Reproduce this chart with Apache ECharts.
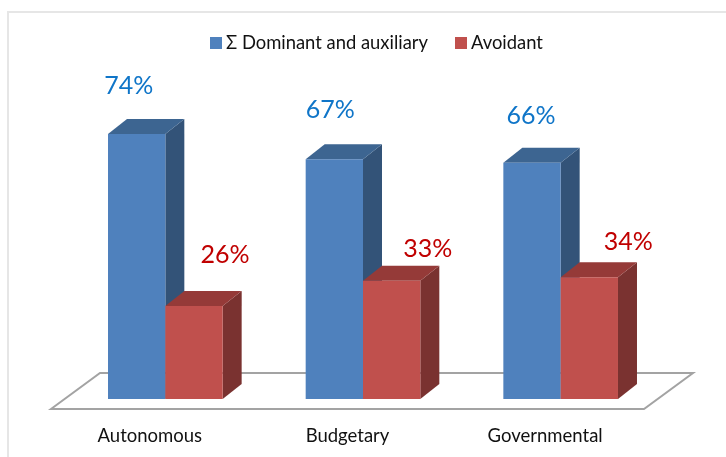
<!DOCTYPE html>
<html>
<head>
<meta charset="utf-8">
<style>
	html, body { margin: 0; padding: 0; background: #fff; }
	#main { width: 726px; height: 457px; }
</style>
<script src="https://cdn.jsdelivr.net/npm/echarts@6/dist/echarts.min.js"></script>
</head>
<body>
<div id="main"></div>
<script>
	var categories = [ 'Autonomous', 'Budgetary', 'Governmental' ];
	var dominant = [ 74, 67, 66 ];
	var avoidant = [ 26, 33, 34 ];

	var FONT = 'Lato, "Open Sans", sans-serif';
	// bars stand back from the front edge of the floor
	var floorDepth = [ 49, 36 ];
	var barInset = [ 15.5, 10 ];
	var barDepth = [ 19, 15 ];

	// the labels are hand placed in the original, so they sit off centre
	var dominantLabelShift = [ [ -8, -48 ], [ -4, -49 ], [ -1, -47 ] ];
	var avoidantLabelShift = [ [ 31, -51 ], [ 36, -32 ], [ 39, -35 ] ];

	function barRenderer(side, colors, labelColor, labelShift) {
		return function(params, api) {
			var top = api.coord([ api.value(0), api.value(1) ]);
			var base = api.coord([ api.value(0), 0 ]);
			var w = api.size([ 1, 0 ])[0] * 0.29;
			var x = top[0] + barInset[0] + (side < 0 ? -w : 0);
			var y0 = top[1] - barInset[1];
			var y1 = base[1] - barInset[1];
			var dx = barDepth[0], dy = barDepth[1];
			var shift = labelShift[params.dataIndex];
			return {
				type : 'group',
				children : [ {
					type : 'polygon',
					shape : { points : [ [ x + w, y0 ], [ x + w + dx, y0 - dy ], [ x + w + dx, y1 - dy ], [ x + w, y1 ] ] },
					style : { fill : colors.side }
				}, {
					type : 'polygon',
					shape : { points : [ [ x, y0 ], [ x + dx, y0 - dy ], [ x + w + dx, y0 - dy ], [ x + w, y0 ] ] },
					style : { fill : colors.top }
				}, {
					type : 'rect',
					shape : { x : x, y : y0, width : w, height : y1 - y0 },
					style : { fill : colors.front }
				}, {
					type : 'text',
					x : x + w / 2 + shift[0],
					y : y0 + shift[1],
					style : {
						text : api.value(1) + '%',
						fill : labelColor,
						font : '25px ' + FONT,
						textAlign : 'center',
						textVerticalAlign : 'middle'
					}
				} ]
			};
		};
	}

	function floorRenderer(params, api) {
		var g = params.coordSys;
		var fy = g.y + g.height;
		var right = g.x + g.width;
		return {
			type : 'polygon',
			shape : { points : [ [ g.x, fy ], [ g.x + floorDepth[0], fy - floorDepth[1] ], [ right + floorDepth[0], fy - floorDepth[1] ], [ right, fy ] ] },
			style : { fill : '#fff', stroke : '#a3a3a3', lineWidth : 2 }
		};
	}

	var myChart = echarts.init(document.getElementById('main'));
	var option = {
		animation : false,
		backgroundColor : '#fff',
		graphic : [ {
			type : 'polyline',
			shape : { points : [ [ 726, 12 ], [ 8, 12 ], [ 8, 457 ] ] },
			style : { fill : null, stroke : '#e6e6e6', lineWidth : 2 }
		} ],
		legend : {
			data : [ 'Σ Dominant and auxiliary', 'Avoidant' ],
			left : 205,
			top : 29,
			icon : 'rect',
			itemWidth : 12,
			itemHeight : 12,
			itemGap : 27,
			textStyle : {
				fontFamily : FONT,
				fontSize : 18.4,
				color : '#111',
				padding : [ 0, 0, 0, -1 ]
			}
		},
		grid : {
			left : 51,
			right : 82,
			top : 51,
			bottom : 48
		},
		xAxis : {
			type : 'category',
			data : categories,
			axisLine : { show : false },
			axisTick : { show : false },
			axisLabel : {
				margin : 18,
				fontFamily : FONT,
				fontSize : 18.5,
				color : '#111'
			}
		},
		yAxis : {
			type : 'value',
			min : 0,
			max : 100,
			show : false
		},
		series : [ {
			name : 'floor',
			type : 'custom',
			renderItem : floorRenderer,
			data : [ [ 0, 0 ] ],
			clip : false,
			silent : true,
			z : 1
		}, {
			name : 'Σ Dominant and auxiliary',
			type : 'custom',
			renderItem : barRenderer(-1, { front : '#4f81bd', top : '#3d6591', side : '#335378' }, '#0f75c8', dominantLabelShift),
			itemStyle : { color : '#4f81bd' },
			encode : { x : 0, y : 1 },
			data : dominant.map(function(v, i) { return [ i, v ]; }),
			clip : false,
			z : 2
		}, {
			name : 'Avoidant',
			type : 'custom',
			renderItem : barRenderer(1, { front : '#c0504d', top : '#953a38', side : '#7a3230' }, '#c00000', avoidantLabelShift),
			itemStyle : { color : '#c0504d' },
			encode : { x : 0, y : 1 },
			data : avoidant.map(function(v, i) { return [ i, v ]; }),
			clip : false,
			z : 3
		} ]
	};
	myChart.setOption(option);
</script>
</body>
</html>
